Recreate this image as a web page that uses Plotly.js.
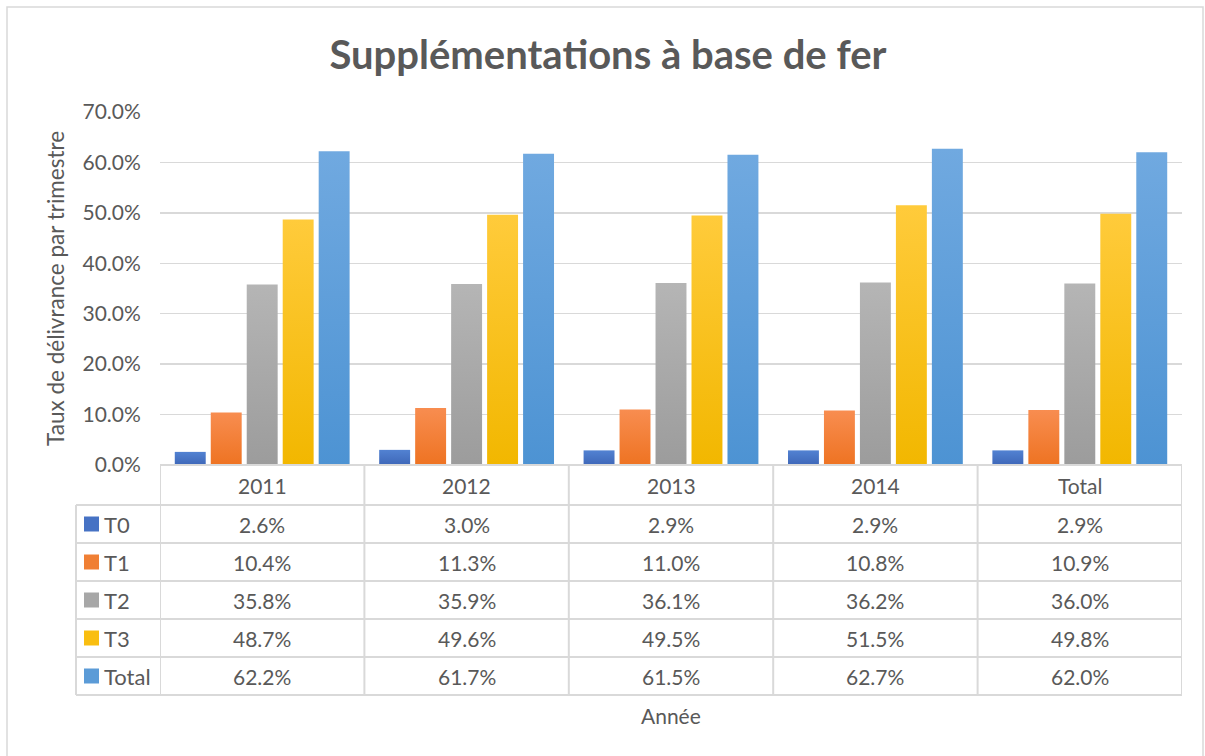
<!DOCTYPE html>
<html>
<head>
<meta charset="utf-8">
<script src="https://cdn.plot.ly/plotly-3.0.1.min.js"></script>
<style>
html,body{margin:0;padding:0;background:#fff;}
#chart{width:1205px;height:756px;}
</style>
</head>
<body>
<div id="chart"></div>
<script>
// ---- data ----
const years = ['2011', '2012', '2013', '2014', 'Total'];
const seriesNames = ['T0', 'T1', 'T2', 'T3', 'Total'];
const T0 = [0.026, 0.030, 0.029, 0.029, 0.029];
const T1 = [0.104, 0.113, 0.110, 0.108, 0.109];
const T2 = [0.358, 0.359, 0.361, 0.362, 0.360];
const T3 = [0.487, 0.496, 0.495, 0.515, 0.498];
const TotalS = [0.622, 0.617, 0.615, 0.627, 0.620];
const yTicks = [0, 0.1, 0.2, 0.3, 0.4, 0.5, 0.6, 0.7];
const titleText = 'Supplémentations à base de fer';
const yTitle = 'Taux de délivrance par trimestre';
const xTitle = 'Année';

// ---- style ----
const colors = ['#4672C4', '#F07F34', '#A7A7A7', '#F9BE10', '#5B9BD7'];
const gradTop = ['#5282D2', '#F88D50', '#B5B5B5', '#FFCB3B', '#70A9E0'];
const gradBot = ['#3E67B8', '#EE7322', '#9C9C9C', '#F2B700', '#4D93D3'];
const txt = '#595959';
const grid = '#D9D9D9';
const FONT = 'Lato, "Open Sans", sans-serif';

const allSeries = [T0, T1, T2, T3, TotalS];
const traces = allSeries.map((vals, i) => ({
  type: 'bar', name: seriesNames[i], x: years, y: vals,
  marker: {color: colors[i], line: {width: 0}},
  hoverinfo: 'x+y'
}));

// pixel -> paper helpers (plot area: x 160..1182, y 112..465)
const L = 160, R = 1182, T = 112, B = 465;
const px = X => (X - L) / (R - L);
const py = Y => (B - Y) / (B - T);

const shapes = [];
const annotations = [];
const lineStyle = {color: '#D9D9D9', width: 2};

// table geometry
const rowY = [465, 505, 543, 581, 619, 657, 695];
const legLeft = 76;
// horizontal lines
shapes.push({type: 'line', xref: 'x', yref: 'paper', x0: -0.5, x1: 4.5, y0: py(rowY[0]), y1: py(rowY[0]), line: lineStyle});
for (let r = 1; r < rowY.length; r++) {
  shapes.push({type: 'line', xref: 'paper', yref: 'paper', x0: px(legLeft), x1: 1, y0: py(rowY[r]), y1: py(rowY[r]), line: lineStyle});
}
// vertical lines
for (let c = 0; c <= years.length; c++) {
  shapes.push({type: 'line', xref: 'x', yref: 'paper', x0: c - 0.5, x1: c - 0.5, y0: py(rowY[0]), y1: py(rowY[6]), line: lineStyle});
}
shapes.push({type: 'line', xref: 'paper', yref: 'paper', x0: px(legLeft), x1: px(legLeft), y0: py(rowY[1]), y1: py(rowY[6]), line: lineStyle});

// header labels
years.forEach((yr, c) => {
  annotations.push({xref: 'x', yref: 'paper', x: c, y: py((rowY[0] + rowY[1]) / 2), text: yr, showarrow: false,
    font: {family: FONT, size: 21, color: txt}, xanchor: 'center', yanchor: 'middle'});
});
// rows
allSeries.forEach((vals, r) => {
  const yc = py((rowY[r + 1] + rowY[r + 2]) / 2);
  shapes.push({type: 'rect', xref: 'paper', yref: 'paper', x0: px(84), x1: px(99), y0: yc - 7.5 / (B - T), y1: yc + 7.5 / (B - T),
    fillcolor: colors[r], line: {width: 0}});
  annotations.push({xref: 'paper', yref: 'paper', x: px(102), y: yc, text: seriesNames[r], showarrow: false,
    font: {family: FONT, size: 22, color: txt}, xanchor: 'left', yanchor: 'middle'});
  vals.forEach((v, c) => {
    annotations.push({xref: 'x', yref: 'paper', x: c, y: yc, text: (v * 100).toFixed(1) + '%', showarrow: false,
      font: {family: FONT, size: 21, color: txt}, xanchor: 'center', yanchor: 'middle'});
  });
});
// x title
annotations.push({xref: 'paper', yref: 'paper', x: px(671), y: py(715), text: xTitle, showarrow: false,
  font: {family: FONT, size: 21, color: txt}, xanchor: 'center', yanchor: 'middle'});
// y title
annotations.push({xref: 'paper', yref: 'paper', x: px(55), y: py(289), text: yTitle, showarrow: false, textangle: -90,
  font: {family: FONT, size: 22.5, color: txt}, xanchor: 'center', yanchor: 'middle'});
// chart border
shapes.push({type: 'rect', xref: 'paper', yref: 'paper', x0: px(7), x1: px(1203), y0: py(7), y1: py(770),
  line: {color: '#D9D9D9', width: 1.5}, fillcolor: 'rgba(0,0,0,0)', layer: 'below'});

const layout = {
  width: 1205, height: 756,
  margin: {l: L, r: 1205 - R, t: T, b: 756 - B, pad: 0},
  paper_bgcolor: '#fff', plot_bgcolor: '#fff',
  showlegend: false,
  barmode: 'group', bargap: 0.12, bargroupgap: 0.14,
  title: {text: '<b>' + titleText + '</b>', xref: 'container', yref: 'container', x: 608 / 1205, y: 1 - 55 / 756,
    xanchor: 'center', yanchor: 'middle', font: {family: FONT, size: 40, color: txt}},
  xaxis: {type: 'category', range: [-0.5, 4.5], showticklabels: false, ticks: '', showgrid: false, zeroline: false, showline: false, fixedrange: true},
  yaxis: {range: [0, 0.7], tickvals: yTicks, tickformat: '.1%', showgrid: true, gridcolor: grid, gridwidth: 1.5,
    zeroline: false, showline: false, ticks: 'outside', ticklen: 14, tickcolor: 'rgba(0,0,0,0)',
    tickfont: {family: FONT, size: 21, color: txt}},
  shapes: shapes,
  annotations: annotations
};

Plotly.newPlot('chart', traces, layout, {displayModeBar: false, staticPlot: true}).then(gd => {
  // vertical gradient fills like the original chart
  const svg = gd.querySelector('svg.main-svg');
  let defs = svg.querySelector('defs');
  const NS = 'http://www.w3.org/2000/svg';
  colors.forEach((c, i) => {
    const g = document.createElementNS(NS, 'linearGradient');
    g.setAttribute('id', 'bargrad' + i);
    g.setAttribute('x1', '0'); g.setAttribute('y1', '0'); g.setAttribute('x2', '0'); g.setAttribute('y2', '1');
    [[0, gradTop[i]], [1, gradBot[i]]].forEach(([o, col]) => {
      const s = document.createElementNS(NS, 'stop');
      s.setAttribute('offset', o); s.setAttribute('stop-color', col);
      g.appendChild(s);
    });
    defs.appendChild(g);
  });
  gd.querySelectorAll('.barlayer .trace').forEach((tr, i) => {
    tr.querySelectorAll('path').forEach(p => { p.style.fill = 'url(#bargrad' + i + ')'; });
  });
});
</script>
</body>
</html>
